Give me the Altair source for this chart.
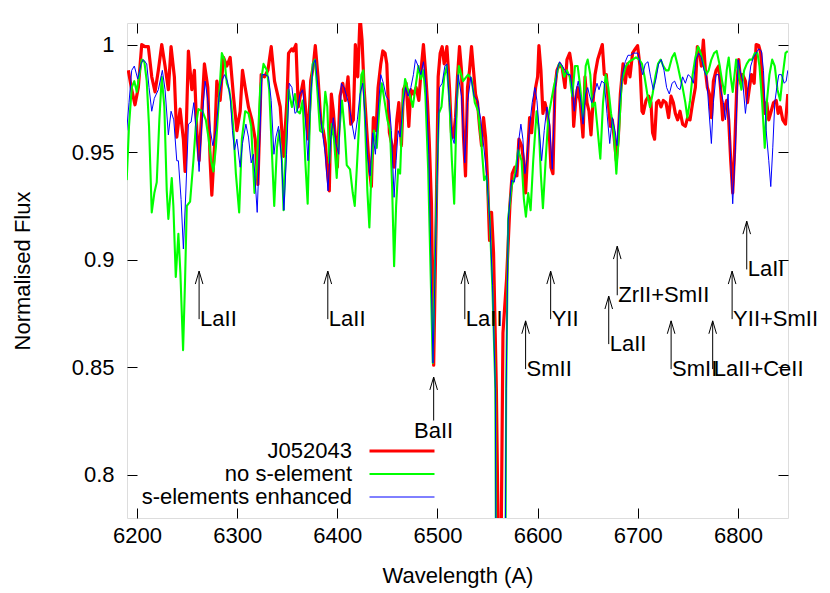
import altair as alt
import pandas as pd

FONT = "Liberation Sans"

series_names = ["J052043", "no s-element", "s-elements enhanced"]
series_colors = ["#ff0000", "#00ff00", "#0000ff"]
series_widths = [3.2, 1.0, 1.0]

red_wave = [6191.3, 6194.7, 6198.0, 6201.3, 6204.7, 6208.0, 6211.3, 6214.7, 6218.0, 6221.3, 6224.7, 6228.0, 6231.3, 6234.0, 6237.3, 6239.7, 6243.0, 6246.3, 6248.0, 6251.3, 6254.7, 6257.3, 6259.7, 6262.0, 6264.7, 6267.3, 6270.7, 6273.0, 6274.7, 6277.3, 6279.7, 6283.0, 6286.3, 6289.7, 6293.0, 6296.3, 6299.7, 6303.0, 6305.3, 6308.0, 6311.3, 6314.7, 6318.0, 6320.7, 6324.0, 6327.3, 6330.7, 6334.0, 6337.3, 6340.7, 6343.0, 6346.3, 6349.7, 6351.3, 6354.7,
            6356.0, 6358.7, 6361.0, 6363.4, 6366.0, 6368.7, 6371.0, 6373.4, 6376.0, 6378.0, 6380.7, 6383.4, 6386.0, 6388.0, 6390.0, 6392.0, 6394.0, 6396.0, 6398.0, 6400.0, 6402.7, 6405.4, 6408.0, 6410.7, 6413.4, 6416.0, 6418.0, 6420.4, 6422.7, 6424.7, 6426.7, 6429.4, 6432.0, 6434.0, 6436.0, 6438.7, 6440.7, 6443.4, 6445.4, 6447.7, 6449.4, 6452.0, 6454.7, 6456.7, 6459.4, 6461.4, 6464.0, 6466.0, 6468.7, 6471.4, 6473.4, 6476.0, 6478.7, 6481.4, 6484.0, 6486.0, 6488.0, 6490.0,
            6491.8, 6494.0, 6496.2, 6498.7, 6500.7, 6502.7, 6504.7, 6506.7, 6509.4, 6512.0, 6514.0, 6516.0, 6518.0,
            6520.0, 6522.0, 6524.0, 6526.0, 6528.0, 6530.0, 6532.0, 6534.0, 6536.0, 6538.0, 6540.0, 6542.0, 6544.0, 6546.0, 6548.0, 6550.0, 6552.0, 6554.0, 6556.0, 6558.8, 6560.4, 6562.3, 6563.8, 6565.4, 6569.0,
            6572.3, 6574.6, 6577.3, 6579.3, 6581.3, 6584.0, 6586.0, 6588.0, 6590.0, 6592.0, 6594.0, 6596.0, 6598.0, 6600.0, 6601.3, 6603.3, 6605.3, 6607.3, 6609.3, 6611.3, 6613.3, 6615.3, 6617.3, 6619.3, 6622.0, 6624.6, 6627.3, 6629.3, 6632.0, 6634.0, 6636.0, 6638.0, 6640.0, 6642.6, 6645.3, 6647.3, 6649.3, 6651.3, 6653.3, 6655.3, 6657.3, 6660.0, 6662.6, 6664.6, 6666.6, 6668.6, 6670.6, 6672.6, 6674.6, 6676.6, 6678.6, 6680.6, 6682.6, 6685.3,
            6687.5, 6689.8, 6692.2, 6694.8, 6697.5, 6699.8, 6702.2, 6704.2, 6705.5, 6708.2, 6710.8, 6713.2, 6714.8, 6716.8, 6718.8, 6720.8, 6723.2, 6725.5, 6728.2, 6730.8, 6733.2, 6735.5, 6737.5, 6739.8, 6742.2, 6744.8, 6747.5, 6749.8, 6752.2, 6754.8, 6757.5, 6759.5, 6761.5, 6763.5, 6765.5, 6767.5, 6769.5, 6771.5, 6773.5, 6775.5, 6778.2, 6780.8, 6782.8, 6784.8, 6786.8, 6788.8, 6790.8, 6792.8, 6794.8, 6796.8, 6798.8, 6800.8, 6802.8, 6804.8, 6807.5, 6809.5, 6811.5, 6813.5, 6816.2, 6818.2, 6820.8, 6822.8, 6824.8, 6826.8, 6828.8, 6830.8, 6833.2, 6835.5, 6838.2, 6840.2, 6842.2, 6844.8, 6847.5, 6849.8]
red_flux = [0.988, 0.979, 0.972, 0.980, 1.000, 0.999, 0.999, 0.985, 0.978, 0.988, 1.000, 0.990, 0.979, 0.999, 0.985, 0.957, 0.970, 0.956, 0.941, 0.997, 0.979, 0.988, 0.960, 0.946, 0.969, 0.991, 0.980, 0.946, 0.930, 0.952, 0.983, 0.974, 0.994, 0.990, 0.994, 0.976, 0.960, 0.969, 0.988, 0.980, 0.971, 0.965, 0.956, 0.935, 0.986, 0.985, 0.988, 0.999, 0.983, 0.976, 0.971, 0.948, 0.974, 0.996, 0.998,
            0.997, 1.000, 0.971, 0.977, 0.983, 0.968, 0.956, 0.983, 0.990, 0.9995, 0.985, 0.965, 0.960, 0.954, 0.942, 0.932, 0.977, 0.969, 0.957, 0.943, 0.976, 0.982, 0.974, 0.985, 0.963, 0.965, 1.000, 0.985, 1.013, 1.002, 0.980, 0.960, 0.942, 0.934, 0.966, 0.960, 0.980, 0.991, 0.997, 0.996, 0.991, 0.959, 0.953, 0.943, 0.965, 0.973, 0.953, 0.979, 0.982, 0.962, 0.979, 0.977, 0.980, 0.974, 0.990, 1.000, 0.988, 0.973,
            0.955, 0.926, 0.851, 0.919, 0.985, 0.996, 0.999, 0.991, 0.999, 0.980, 0.959, 0.957, 0.966,
            0.985, 0.999, 0.988, 0.957, 0.939, 0.980, 0.988, 0.999, 0.988, 0.977, 0.973, 0.962, 0.953, 0.966, 0.957, 0.937, 0.909, 0.922, 0.903, 0.840, 0.780, 0.700, 0.780, 0.866, 0.891,
            0.925, 0.940, 0.943, 0.939, 0.956, 0.953, 0.946, 0.931, 0.949, 0.966, 0.959, 0.971, 0.980, 0.985, 0.9995, 0.988, 0.968, 0.973, 0.969, 0.962, 0.943, 0.940, 0.980, 0.988, 0.991, 0.989, 0.980, 0.993, 0.996, 0.990, 0.962, 0.974, 0.980, 0.973, 0.957, 0.985, 0.973, 0.969, 0.958, 0.973, 0.986, 0.993, 0.997, 1.000, 0.986, 0.986, 0.973, 0.962, 0.965, 0.956, 0.946, 0.957, 0.977, 0.991,
            0.982, 0.991, 0.985, 0.996, 0.998, 0.9995, 0.990, 0.969, 0.968, 0.974, 0.976, 0.973, 0.959, 0.956, 0.973, 0.974, 0.971, 0.974, 0.973, 0.966, 0.976, 0.973, 0.968, 0.965, 0.969, 0.963, 0.962, 0.966, 0.965, 0.973, 0.980, 0.999, 0.997, 0.990, 1.002, 0.988, 0.980, 0.977, 0.966, 0.983, 0.988, 0.990, 0.979, 0.965, 0.971, 0.974, 0.965, 0.946, 0.931, 0.952, 0.980, 0.993, 0.982, 0.986, 0.983, 0.973, 0.980, 0.986, 0.982, 1.000, 0.9995, 0.996, 0.979, 0.968, 0.973, 0.965, 0.969, 0.973, 0.974, 0.968, 0.971, 0.965, 0.963, 0.977]

green_wave = [6189.7, 6192.0, 6194.7, 6197.3, 6199.7, 6202.0, 6204.7, 6207.3, 6209.7, 6212.0, 6214.7, 6217.3, 6219.7, 6222.3, 6224.7, 6227.3, 6229.7, 6231.3, 6234.7, 6236.3, 6238.7, 6241.3, 6243.3, 6246.0, 6248.0, 6249.7, 6253.0, 6256.3, 6258.7, 6261.3, 6265.3, 6268.7, 6271.3, 6274.0, 6276.3, 6278.7, 6281.3, 6284.7, 6287.3, 6289.7, 6292.0, 6294.0, 6296.3, 6298.7, 6302.0, 6304.7, 6308.0, 6311.3, 6314.0, 6317.3, 6319.7, 6323.0, 6326.3, 6329.7, 6332.0, 6334.7, 6337.0, 6339.7, 6342.0, 6344.7, 6346.3, 6348.7, 6351.3, 6354.7,
              6357.7, 6360.0, 6362.7, 6365.4, 6368.0, 6370.4, 6372.7, 6375.4, 6377.7, 6380.0, 6382.7, 6385.4, 6388.0, 6390.0, 6392.0, 6394.4, 6396.7, 6399.4, 6402.0, 6404.7, 6407.4, 6409.4, 6412.7, 6415.4, 6417.4, 6419.4, 6422.0, 6424.0, 6426.0, 6428.0, 6430.0, 6432.0, 6434.4, 6436.7, 6439.4, 6442.0, 6444.4, 6447.4, 6450.0, 6452.7, 6454.7, 6456.7, 6458.7, 6460.7, 6462.7, 6465.4, 6467.7, 6470.0, 6472.7, 6475.4, 6477.7, 6481.0, 6483.4, 6486.0, 6488.0,
              6490.7, 6495.3, 6499.3, 6501.4, 6504.0, 6506.7, 6509.4, 6512.0, 6514.4, 6516.7,
              6519.3, 6521.3, 6525.6, 6530.6, 6534.0, 6537.3, 6540.6, 6544.0, 6546.6, 6549.0, 6552.3, 6555.0, 6557.8, 6558.5, 6563.0, 6567.8, 6568.6, 6570.6, 6574.0,
              6577.3, 6580.6, 6584.0, 6586.3, 6588.3, 6590.6, 6593.0, 6595.6, 6599.0, 6601.3, 6603.3, 6605.3, 6608.0, 6610.6, 6613.3, 6616.0, 6618.6, 6621.3, 6624.0, 6626.6, 6629.3, 6632.0, 6634.6, 6637.3, 6640.0, 6642.6, 6645.3, 6648.0, 6650.0, 6652.6, 6654.6, 6657.3, 6660.0, 6662.6, 6665.3, 6668.0, 6670.6, 6673.3, 6676.0, 6678.6, 6681.3, 6684.0,
              6688.2, 6691.5, 6694.8, 6698.2, 6701.5, 6704.2, 6706.8, 6709.5, 6712.2, 6714.8, 6717.5, 6720.2, 6722.8, 6725.5, 6728.2, 6730.8, 6734.2, 6736.8, 6739.5, 6742.2, 6744.8, 6747.5, 6749.5, 6752.2, 6754.8, 6757.5, 6760.2, 6762.8, 6765.5, 6768.2, 6770.8, 6773.5, 6776.2, 6778.8, 6781.5, 6784.2, 6786.8, 6788.8, 6790.8, 6792.8, 6794.8, 6798.2, 6800.8, 6803.5, 6806.2, 6808.8, 6811.5, 6814.2, 6816.8, 6819.5, 6821.5, 6824.2, 6826.8, 6828.8, 6831.5, 6834.2, 6836.8, 6839.5, 6842.2, 6844.8, 6847.5, 6849.8]
green_flux = [0.937, 0.962, 0.980, 0.983, 0.978, 0.985, 0.993, 0.992, 0.983, 0.962, 0.922, 0.931, 0.936, 0.965, 0.985, 0.971, 0.932, 0.919, 0.938, 0.925, 0.892, 0.912, 0.894, 0.858, 0.891, 0.925, 0.927, 0.946, 0.962, 0.970, 0.969, 0.965, 0.957, 0.946, 0.941, 0.952, 0.971, 0.996, 0.993, 0.982, 0.979, 0.973, 0.960, 0.940, 0.922, 0.956, 0.969, 0.968, 0.962, 0.931, 0.945, 0.980, 0.991, 0.988, 0.979, 0.950, 0.925, 0.952, 0.960, 0.946, 0.923, 0.952, 0.979, 0.971,
              0.977, 0.969, 0.968, 0.974, 0.946, 0.926, 0.968, 0.991, 0.993, 0.979, 0.960, 0.959, 0.978, 0.971, 0.945, 0.963, 0.956, 0.938, 0.960, 0.974, 0.960, 0.944, 0.942, 0.931, 0.925, 0.942, 0.965, 0.986, 0.988, 0.960, 0.932, 0.915, 0.945, 0.960, 0.952, 0.971, 0.982, 0.973, 0.965, 0.960, 0.934, 0.897, 0.925, 0.942, 0.940, 0.974, 0.984, 0.980, 0.976, 0.971, 0.979, 0.990, 0.984, 0.988, 0.976,
              0.942, 0.852, 0.935, 0.968, 0.971, 0.985, 0.990, 0.973, 0.946, 0.926,
              0.973, 0.990, 0.983, 0.986, 0.984, 0.973, 0.969, 0.953, 0.937, 0.939, 0.918, 0.885, 0.840, 0.750, 0.550, 0.750, 0.840, 0.919, 0.934,
              0.939, 0.951, 0.946, 0.928, 0.920, 0.931, 0.923, 0.946, 0.969, 0.960, 0.939, 0.924, 0.946, 0.966, 0.973, 0.980, 0.985, 0.991, 0.990, 0.985, 0.988, 0.985, 0.976, 0.990, 0.990, 0.980, 0.965, 0.990, 0.993, 0.986, 0.971, 0.973, 0.960, 0.947, 0.973, 0.986, 0.980, 0.968, 0.960, 0.940, 0.960, 0.983,
              0.990, 0.992, 0.993, 0.994, 0.993, 0.991, 0.985, 0.977, 0.971, 0.977, 0.985, 0.991, 0.993, 0.990, 0.988, 0.988, 0.994, 0.996, 0.991, 0.985, 0.980, 0.973, 0.966, 0.974, 0.986, 0.994, 0.999, 0.996, 0.991, 0.986, 0.988, 0.993, 0.996, 0.997, 0.991, 0.983, 0.977, 0.988, 0.994, 0.985, 0.978, 0.993, 0.986, 0.979, 0.988, 0.991, 0.993, 0.993, 0.996, 0.996, 0.990, 0.973, 0.952, 0.973, 0.986, 0.993, 0.990, 0.979, 0.974, 0.986, 0.996, 0.997]

blue_wave = [6189.7, 6192.0, 6194.7, 6197.3, 6200.7, 6204.0, 6206.3, 6209.7, 6212.0, 6214.7, 6217.3, 6221.3, 6225.3, 6228.0, 6231.3, 6234.0, 6236.7, 6239.7, 6241.3, 6244.0, 6246.3, 6248.7, 6251.3, 6254.0, 6256.7, 6259.3, 6262.0, 6264.7, 6268.0, 6270.7, 6273.3, 6275.7, 6278.7, 6282.0, 6284.7, 6287.3, 6290.3, 6293.0, 6295.3, 6297.3, 6299.7, 6303.0, 6305.3, 6308.7, 6311.3, 6314.0, 6316.3, 6320.0, 6322.3, 6324.7, 6328.0, 6331.3, 6334.0, 6336.7, 6338.7, 6341.3, 6344.0, 6346.7, 6349.3, 6352.0, 6354.7,
             6357.7, 6360.0, 6362.7, 6365.4, 6368.0, 6370.7, 6373.4, 6376.0, 6378.0, 6380.7, 6383.4, 6386.0, 6388.0, 6390.7, 6393.4, 6396.0, 6398.7, 6401.4, 6404.0, 6406.7, 6409.4, 6412.0, 6414.7, 6417.4, 6420.0, 6422.7, 6425.4, 6428.0, 6430.0, 6432.7, 6435.4, 6438.0, 6440.7, 6443.4, 6446.0, 6448.7, 6451.4, 6454.0, 6456.7, 6458.7, 6460.7, 6462.7, 6465.4, 6468.0, 6470.7, 6473.4, 6476.0, 6478.0, 6480.7, 6483.4, 6486.0, 6488.7,
             6491.4, 6495.5, 6499.5, 6502.0, 6504.7, 6507.4, 6509.4, 6512.0, 6514.7, 6516.7,
             6520.6, 6524.0, 6527.3, 6530.0, 6533.3, 6536.6, 6540.0, 6543.3, 6546.6, 6549.0, 6552.3, 6555.0, 6557.8, 6558.5, 6563.0, 6567.6, 6568.6, 6570.6, 6574.0,
             6576.6, 6579.3, 6581.3, 6583.3, 6585.3, 6587.3, 6589.3, 6592.0, 6594.6, 6597.3, 6599.3, 6601.3, 6604.0, 6606.6, 6609.3, 6612.0, 6614.6, 6617.3, 6619.3, 6622.0, 6624.6, 6627.3, 6630.0, 6632.6, 6634.6, 6636.6, 6638.6, 6640.6, 6643.3, 6645.3, 6648.0, 6650.0, 6652.0, 6654.0, 6656.6, 6659.3, 6661.3, 6664.0, 6666.6, 6669.3, 6672.0, 6674.6, 6677.3, 6679.3, 6682.0, 6684.6,
             6687.5, 6690.2, 6692.8, 6695.5, 6698.2, 6700.2, 6702.8, 6704.8, 6707.5, 6710.2, 6712.8, 6715.5, 6718.2, 6720.8, 6723.5, 6726.2, 6728.8, 6731.5, 6734.2, 6736.8, 6739.5, 6742.2, 6744.8, 6747.5, 6750.2, 6752.8, 6755.5, 6758.2, 6760.8, 6763.5, 6766.2, 6768.8, 6770.8, 6773.5, 6775.5, 6778.2, 6780.8, 6782.8, 6785.5, 6787.5, 6790.2, 6792.8, 6794.8, 6797.5, 6800.2, 6802.2, 6804.8, 6807.5, 6810.2, 6812.8, 6815.5, 6818.2, 6820.8, 6823.5, 6825.5, 6828.2, 6830.8, 6832.8, 6834.8, 6836.8, 6838.8, 6840.8, 6843.5, 6846.2, 6848.2, 6849.8]
blue_flux = [0.960, 0.973, 0.988, 0.990, 0.984, 0.991, 0.993, 0.991, 0.980, 0.969, 0.975, 0.979, 0.988, 0.979, 0.958, 0.969, 0.965, 0.946, 0.946, 0.928, 0.905, 0.931, 0.963, 0.964, 0.973, 0.959, 0.941, 0.963, 0.983, 0.974, 0.960, 0.953, 0.960, 0.976, 0.983, 0.986, 0.983, 0.976, 0.960, 0.951, 0.956, 0.943, 0.954, 0.963, 0.957, 0.945, 0.949, 0.922, 0.952, 0.986, 0.986, 0.985, 0.974, 0.949, 0.957, 0.962, 0.949, 0.923, 0.949, 0.982, 0.980,
             0.968, 0.969, 0.977, 0.979, 0.966, 0.946, 0.977, 0.991, 0.993, 0.980, 0.966, 0.956, 0.949, 0.932, 0.956, 0.966, 0.954, 0.949, 0.982, 0.980, 0.976, 0.971, 0.963, 0.956, 0.965, 0.977, 0.982, 0.965, 0.949, 0.939, 0.959, 0.949, 0.969, 0.986, 0.982, 0.976, 0.974, 0.960, 0.929, 0.946, 0.960, 0.957, 0.971, 0.980, 0.976, 0.980, 0.986, 0.993, 0.990, 0.986, 0.992, 0.980,
             0.949, 0.852, 0.935, 0.980, 0.982, 0.990, 0.991, 0.973, 0.957, 0.954,
             0.986, 0.976, 0.945, 0.973, 0.985, 0.976, 0.974, 0.965, 0.951, 0.940, 0.918, 0.888, 0.840, 0.750, 0.550, 0.750, 0.840, 0.918, 0.937,
             0.936, 0.942, 0.956, 0.963, 0.956, 0.940, 0.946, 0.962, 0.973, 0.980, 0.974, 0.962, 0.946, 0.960, 0.971, 0.963, 0.942, 0.977, 0.988, 0.992, 0.990, 0.988, 0.986, 0.986, 0.979, 0.969, 0.979, 0.983, 0.973, 0.963, 0.977, 0.980, 0.976, 0.973, 0.977, 0.982, 0.979, 0.983, 0.982, 0.968, 0.954, 0.966, 0.960, 0.953, 0.973, 0.986,
             0.992, 0.995, 0.995, 0.996, 0.996, 0.996, 0.990, 0.986, 0.991, 0.992, 0.985, 0.979, 0.984, 0.991, 0.993, 0.988, 0.980, 0.977, 0.982, 0.983, 0.980, 0.979, 0.985, 0.982, 0.986, 0.985, 0.982, 0.993, 0.996, 0.994, 0.988, 0.985, 0.971, 0.954, 0.973, 0.986, 0.986, 0.979, 0.973, 0.965, 0.977, 0.946, 0.926, 0.952, 0.993, 0.988, 0.983, 0.968, 0.980, 0.990, 0.994, 0.996, 0.998, 0.997, 0.988, 0.960, 0.946, 0.934, 0.952, 0.973, 0.980, 0.986, 0.986, 0.982, 0.983, 0.988]

x_ticks = [6200, 6300, 6400, 6500, 6600, 6700, 6800]
y_ticks = [0.8, 0.85, 0.9, 0.95, 1.0]

ann_label = ["LaII", "LaII", "BaII", "LaII", "SmII", "YII", "LaII", "ZrII+SmII", "SmII", "LaII+CeII", "YII+SmII", "LaII"]
ann_wave = [6262.0, 6390.5, 6496.2, 6527.3, 6588.0, 6613.0, 6671.0, 6679.5, 6733.3, 6774.8, 6794.2, 6808.8]
ann_tip = [0.8947, 0.8947, 0.8455, 0.8947, 0.8716, 0.8947, 0.8831, 0.9063, 0.8716, 0.8716, 0.8947, 0.9179]
ann_tail = [0.8724, 0.8724, 0.8253, 0.8724, 0.8492, 0.8724, 0.8608, 0.8835, 0.8492, 0.8492, 0.8724, 0.8955]
ann_text_y = [0.8724, 0.8724, 0.8204, 0.8724, 0.8492, 0.8724, 0.8608, 0.8835, 0.8492, 0.8492, 0.8724, 0.8955]
ann_align = ["left", "left", "center", "left", "left", "left", "left", "left", "left", "left", "left", "left"]

# ---- tables ----
rows = []
for name, wv, fl in [(series_names[0], red_wave, red_flux),
                     (series_names[1], green_wave, green_flux),
                     (series_names[2], blue_wave, blue_flux)]:
    for w, f in zip(wv, fl):
        rows.append({"series": name, "wave": w, "flux": f})
spec_df = pd.DataFrame(rows)

ann_df = pd.DataFrame({"label": ann_label, "wave": ann_wave, "tip": ann_tip,
                       "tail": ann_tail, "ty": ann_text_y, "align": ann_align})
HEAD_W = 3.8    # half-width of arrow head (Angstrom)
HEAD_H = 0.006  # height of arrow head (flux)
wings = []
for w, t in zip(ann_wave, ann_tip):
    for s in (-1, 1):
        wings.append({"x": w + s * HEAD_W, "x2": w, "y": t - HEAD_H, "y2": t})
wing_df = pd.DataFrame(wings)

W, H = 661, 495
xs = alt.Scale(domain=[6190, 6850], nice=False, zero=False)
ys = alt.Scale(domain=[0.78, 1.01], nice=False, zero=False)

lab = dict(labelFont=FONT, labelFontSize=22, labelColor="black", grid=False,
           domain=False, ticks=False, tickSize=0)


def tick_axis(orient, offset, values):
    return alt.Axis(orient=orient, offset=offset, values=values, labels=False,
                    ticks=True, tickSize=10, tickColor="black", tickWidth=1,
                    domain=False, grid=False, title=None)


legend_kw = dict(title=None, orient="none", legendX=264, legendY=417,
                 direction="vertical", labelAlign="right",
                 labelOffset={"expr": "-61"},
                 labelFont=FONT, labelFontSize=22, labelColor="black",
                 labelLimit=500, symbolType="M-4,0L4,0", symbolSize=264,
                 rowPadding=1, padding=0)

lines = alt.Chart(spec_df).mark_line(clip=True, strokeJoin="round").encode(
    x=alt.X("wave:Q", scale=xs, axis=alt.Axis(
        values=x_ticks, format="d", labelPadding=7, labelFlush=False,
        title="Wavelength (A)", titleFont=FONT, titleFontSize=22,
        titleFontWeight="normal", titleColor="black", titleX=W / 2, titleY=57,
        titleAlign="center", titleBaseline="middle", **lab)),
    y=alt.Y("flux:Q", scale=ys, axis=alt.Axis(
        values=y_ticks, format="~g", labelPadding=13, labelFlush=False,
        title="Normalised Flux", titleFont=FONT, titleFontSize=22,
        titleFontWeight="normal", titleColor="black", titleX=-105, titleY=H / 2,
        titleAngle=270, titleAlign="center", titleBaseline="middle", **lab)),
    color=alt.Color("series:N", scale=alt.Scale(domain=series_names, range=series_colors),
                    legend=alt.Legend(**legend_kw)),
    strokeWidth=alt.StrokeWidth("series:N", scale=alt.Scale(domain=series_names, range=series_widths),
                                legend=alt.Legend(**legend_kw)),
)

shafts = alt.Chart(ann_df).mark_rule(color="black", strokeWidth=1).encode(
    x=alt.X("wave:Q", scale=xs, axis=tick_axis("top", -H, x_ticks)),
    y=alt.Y("tip:Q", scale=ys, axis=tick_axis("right", -W, y_ticks)),
    y2="tail:Q",
)

heads = alt.Chart(wing_df).mark_rule(color="black", strokeWidth=1).encode(
    x=alt.X("x:Q", scale=xs, axis=tick_axis("bottom", -H, x_ticks)),
    x2="x2:Q",
    y=alt.Y("y:Q", scale=ys, axis=tick_axis("left", -W, y_ticks)),
    y2="y2:Q",
)

text_left = alt.Chart(ann_df).transform_filter(alt.datum.align == "left").mark_text(
    align="left", baseline="middle", font=FONT, fontSize=22, color="black", dx=1
).encode(
    x=alt.X("wave:Q", scale=xs, axis=None),
    y=alt.Y("ty:Q", scale=ys, axis=None),
    text="label:N",
)

text_center = alt.Chart(ann_df).transform_filter(alt.datum.align == "center").mark_text(
    align="center", baseline="middle", font=FONT, fontSize=22, color="black"
).encode(
    x=alt.X("wave:Q", scale=xs, axis=None),
    y=alt.Y("ty:Q", scale=ys, axis=None),
    text="label:N",
)

chart = alt.layer(lines, shafts, heads, text_left, text_center).resolve_axis(
    x="independent", y="independent"
).properties(
    width=W, height=H,
    autosize=alt.AutoSizeParams(type="none"),
    padding={"left": 119, "top": 15, "right": 34, "bottom": 70},
).configure_view(stroke="black", strokeWidth=1.5).configure(font=FONT)

chart.save("out.html", embed_options={"renderer": "svg", "actions": False})
